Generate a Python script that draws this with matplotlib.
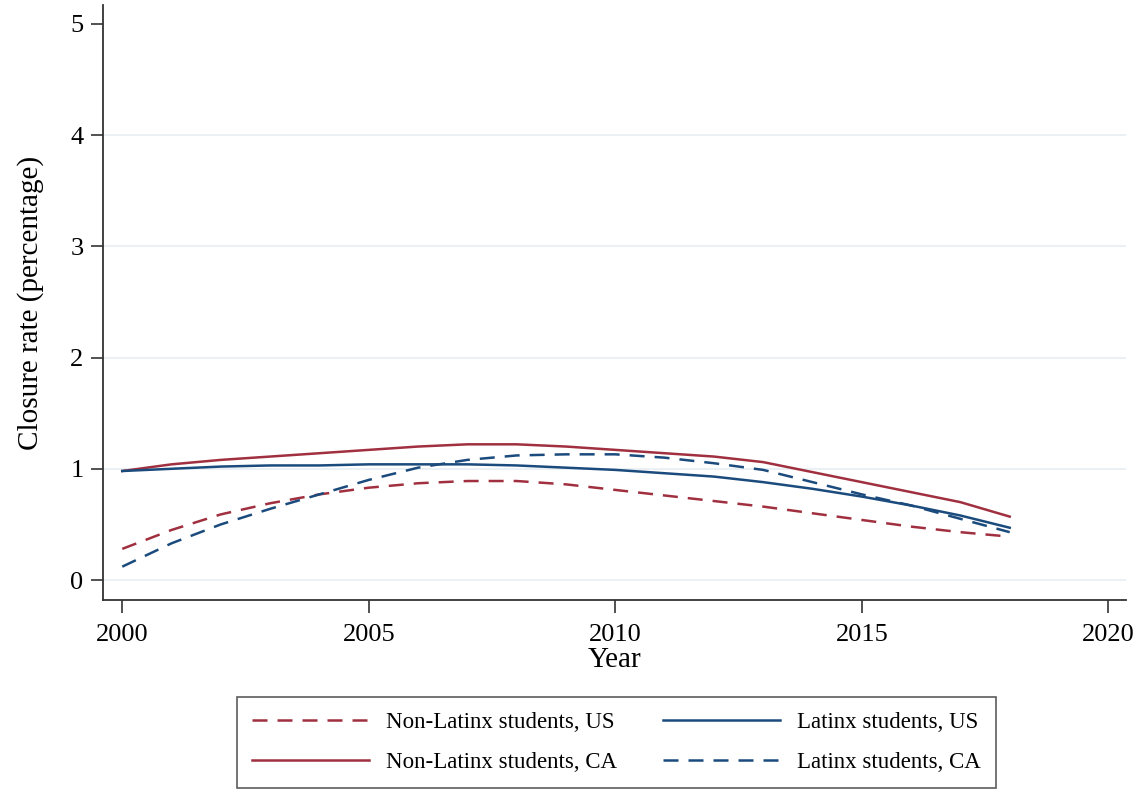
import numpy as np
import matplotlib
matplotlib.use('Agg')
import matplotlib.pyplot as plt

plt.rcParams['font.family'] = ['Liberation Serif', 'DejaVu Serif']

years = list(range(2000, 2019))

# closure rates by year (percent)
nonlatinx_us = [0.28, 0.45, 0.59, 0.69, 0.77, 0.83, 0.87, 0.89, 0.89, 0.86,
                0.81, 0.76, 0.71, 0.66, 0.60, 0.54, 0.48, 0.43, 0.39]
nonlatinx_ca = [0.98, 1.04, 1.08, 1.11, 1.14, 1.17, 1.20, 1.22, 1.22, 1.20,
                1.17, 1.14, 1.11, 1.06, 0.97, 0.88, 0.79, 0.70, 0.57]
latinx_us = [0.98, 1.00, 1.02, 1.03, 1.03, 1.04, 1.04, 1.04, 1.03, 1.01,
             0.99, 0.96, 0.93, 0.88, 0.82, 0.75, 0.67, 0.58, 0.47]
latinx_ca = [0.12, 0.33, 0.50, 0.64, 0.77, 0.90, 1.01, 1.08, 1.12, 1.13,
             1.13, 1.10, 1.05, 0.99, 0.88, 0.77, 0.67, 0.55, 0.43]

xticks = [2000, 2005, 2010, 2015, 2020]
yticks = [0, 1, 2, 3, 4, 5]

red = '#a0303f'
blue = '#1b4b7d'
dash = (0, (6, 4))

fig = plt.figure(figsize=(11.41, 7.94), dpi=100)
ax = fig.add_axes([0.0903, 0.2443, 0.8966, 0.7494])

# light horizontal guides at the interior y ticks
for y in yticks[:-1]:
    ax.axhline(y, color='#e6edf2', lw=1.2, zorder=0)

l1, = ax.plot(years, nonlatinx_us, color=red, lw=1.8, linestyle=dash, label='Non-Latinx students, US')
l2, = ax.plot(years, nonlatinx_ca, color=red, lw=1.8, label='Non-Latinx students, CA')
l3, = ax.plot(years, latinx_us, color=blue, lw=1.8, label='Latinx students, US')
l4, = ax.plot(years, latinx_ca, color=blue, lw=1.8, linestyle=dash, label='Latinx students, CA')

ax.set_xlim(1999.61, 2020.36)
ax.set_ylim(-0.18, 5.17)
ax.set_xticks(xticks)
ax.set_yticks(yticks)
ax.tick_params(axis='both', labelsize=19, length=9, width=1.2, color='#333333')
ax.tick_params(axis='x', pad=8)
ax.tick_params(axis='y', pad=5)
for s in ['top', 'right']:
    ax.spines[s].set_visible(False)
for s in ['left', 'bottom']:
    ax.spines[s].set_linewidth(1.3)
    ax.spines[s].set_color('#333333')

ax.set_xlabel('Year', fontsize=21, labelpad=1)
ax.set_ylabel('Closure rate (percentage)', fontsize=21, labelpad=19)

leg = fig.legend(handles=[l1, l2, l3, l4], loc='center', bbox_to_anchor=(0.5403, 0.0650),
                 ncol=2, fontsize=16.5, frameon=True, fancybox=False, edgecolor='#333333',
                 handlelength=5.1, columnspacing=2.0, handletextpad=0.75,
                 borderpad=0.65, labelspacing=0.85)
leg.get_frame().set_linewidth(1.2)

fig.savefig('out.png', dpi=100)
